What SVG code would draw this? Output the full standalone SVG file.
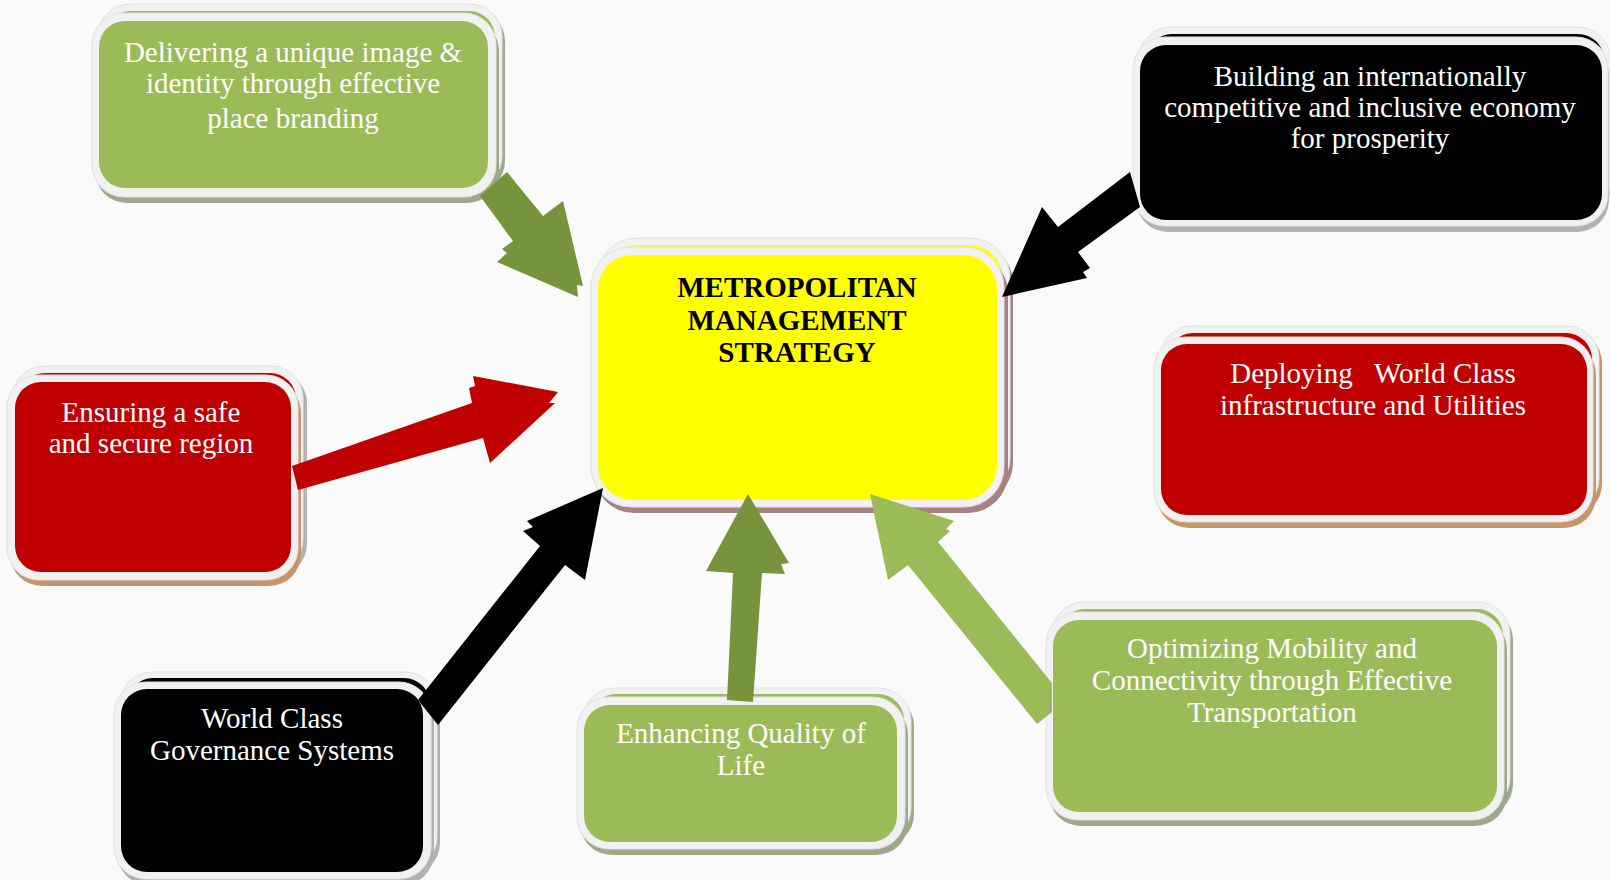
<svg xmlns="http://www.w3.org/2000/svg" width="1610" height="880" viewBox="0 0 1610 880">
<style>
  .rim{fill:#f1f1f1;stroke:#e2e2e2;stroke-width:1}
  .lbl{font-family:"Liberation Serif","Times New Roman",serif;font-size:29px;fill:#ffffff;text-anchor:middle}
  .ttl{font-family:"Liberation Serif","Times New Roman",serif;font-size:29px;font-weight:bold;fill:#000000;text-anchor:middle}
  .g{fill:#9bbb59}
  .r{fill:#c00000}
  .k{fill:#000000}
  .y{fill:#ffff00}
  .sg{fill:#9ea98c}
  .sr{fill:#c8946c}
  .sk{fill:#b2b2b2}
  .sy{fill:#a88282}
</style>
<rect x="0" y="0" width="1610" height="880" fill="#fafafa"/>

<g id="center">
  <rect class="sy" x="600" y="243" width="413" height="260" rx="40"/>
  <rect class="rim" x="597" y="238" width="413" height="260" rx="40"/>
  <rect class="y" x="604" y="245" width="399" height="245" rx="34"/>
  <rect class="sy" x="594" y="253" width="414" height="260" rx="40"/>
  <rect class="rim" x="591" y="247" width="413" height="260" rx="40"/>
  <rect class="y" x="598" y="255" width="399" height="245" rx="34"/>
  <text class="ttl" x="797" y="297">METROPOLITAN</text>
  <text class="ttl" x="797" y="330">MANAGEMENT</text>
  <text class="ttl" x="797" y="362">STRATEGY</text>
</g>

<g id="n-branding">
  <rect class="sg" x="101" y="9" width="404" height="184" rx="32"/>
  <rect class="rim" x="98" y="4" width="404" height="184" rx="32"/>
  <rect class="g" x="105" y="11" width="390" height="168" rx="26"/>
  <rect class="sg" x="95" y="19" width="404" height="184" rx="32"/>
  <rect class="rim" x="92" y="13" width="404" height="184" rx="32"/>
  <rect class="g" x="99" y="21" width="389" height="167" rx="26"/>
  <text class="lbl" x="293" y="62">Delivering a unique image &amp;</text>
  <text class="lbl" x="293" y="93">identity through effective</text>
  <text class="lbl" x="293" y="128">place branding</text>
</g>

<g id="n-economy">
  <rect class="sk" x="1142" y="33" width="468" height="189" rx="32"/>
  <rect class="rim" x="1139" y="27" width="471" height="189" rx="32"/>
  <rect class="k" x="1146" y="34" width="458" height="174" rx="26"/>
  <rect class="sk" x="1136" y="43" width="473" height="189" rx="32"/>
  <rect class="rim" x="1133" y="37" width="475" height="189" rx="32"/>
  <rect class="k" x="1140" y="45" width="462" height="175" rx="26"/>
  <text class="lbl" x="1370" y="86">Building an internationally</text>
  <text class="lbl" x="1370" y="117">competitive and inclusive economy</text>
  <text class="lbl" x="1370" y="148">for prosperity</text>
</g>

<g id="n-safe">
  <rect class="sk" x="16" y="371" width="291" height="205" rx="32"/>
  <rect class="rim" x="12" y="366" width="291" height="205" rx="32"/>
  <rect class="r" x="19" y="373" width="277" height="190" rx="26"/>
  <rect class="sr" x="10" y="381" width="291" height="205" rx="32"/>
  <rect class="rim" x="7" y="375" width="291" height="205" rx="32"/>
  <rect class="r" x="15" y="382" width="276" height="190" rx="26"/>
  <text class="lbl" x="151" y="422">Ensuring a safe</text>
  <text class="lbl" x="151" y="453">and secure region</text>
</g>

<g id="n-infra">
  <rect class="sr" x="1163" y="331" width="439" height="185" rx="32"/>
  <rect class="rim" x="1160" y="326" width="439" height="185" rx="32"/>
  <rect class="r" x="1167" y="333" width="425" height="170" rx="26"/>
  <rect class="sr" x="1157" y="343" width="439" height="185" rx="32"/>
  <rect class="rim" x="1154" y="337" width="439" height="185" rx="32"/>
  <rect class="r" x="1161" y="344" width="426" height="171" rx="26"/>
  <text class="lbl" x="1373" y="383" xml:space="preserve">Deploying   World Class</text>
  <text class="lbl" x="1373" y="415">infrastructure and Utilities</text>
</g>

<g id="n-governance">
  <rect class="sk" x="123" y="678" width="317" height="197" rx="32"/>
  <rect class="rim" x="120" y="672" width="317" height="197" rx="32"/>
  <rect class="k" x="127" y="678" width="303" height="183" rx="26"/>
  <rect class="sk" x="117" y="688" width="317" height="197" rx="32"/>
  <rect class="rim" x="114" y="682" width="317" height="197" rx="32"/>
  <rect class="k" x="121" y="689" width="302" height="183" rx="26"/>
  <text class="lbl" x="272" y="728">World Class</text>
  <text class="lbl" x="272" y="760">Governance Systems</text>
</g>

<g id="n-quality">
  <rect class="sg" x="586" y="694" width="328" height="152" rx="32"/>
  <rect class="rim" x="583" y="688" width="328" height="152" rx="32"/>
  <rect class="g" x="590" y="694" width="314" height="138" rx="26"/>
  <rect class="sg" x="580" y="703" width="328" height="152" rx="32"/>
  <rect class="rim" x="577" y="697" width="328" height="152" rx="32"/>
  <rect class="g" x="584" y="705" width="313" height="137" rx="26"/>
  <text class="lbl" x="741" y="743">Enhancing Quality of</text>
  <text class="lbl" x="741" y="775">Life</text>
</g>

<g id="n-mobility">
  <rect class="sg" x="1055" y="608" width="458" height="208" rx="32"/>
  <rect class="rim" x="1052" y="602" width="458" height="208" rx="32"/>
  <rect class="g" x="1059" y="609" width="444" height="193" rx="26"/>
  <rect class="sg" x="1049" y="618" width="458" height="208" rx="32"/>
  <rect class="rim" x="1046" y="612" width="458" height="208" rx="32"/>
  <rect class="g" x="1053" y="620" width="444" height="192" rx="26"/>
  <text class="lbl" x="1272" y="658">Optimizing Mobility and</text>
  <text class="lbl" x="1272" y="690">Connectivity through Effective</text>
  <text class="lbl" x="1272" y="722">Transportation</text>
</g>

<g id="connectors">
  <polygon fill="#77933c" points="507,172 543,216 563,201 583,286 577,285 578,297 497,262 507,253 502,249 513,241 480,196"/>
  <polygon fill="#000000" points="1130,172 1058,227 1042,207 1002,297 1087,278 1083,272 1090,268 1078,252 1140,207"/>
  <polygon fill="#c00000" points="292,466 472,403 469,388 475,386 473,376 558,392 549,403 555,403 490,463 483,438 298,490"/>
  <polygon fill="#000000" points="418,700 540,546 523,531 533,527 527,521 603,488 585,580 565,565 438,725"/>
  <polygon fill="#77933c" points="727,700 733,573 706,571 712,560 748,494 789,563 781,564 785,574 762,573 753,702"/>
  <polygon fill="#9bbb59" points="870,494 954,521 946,529 950,531 938,542 1052,683 1052,712 1037,724 908,565 888,580"/>
</g>
</svg>
